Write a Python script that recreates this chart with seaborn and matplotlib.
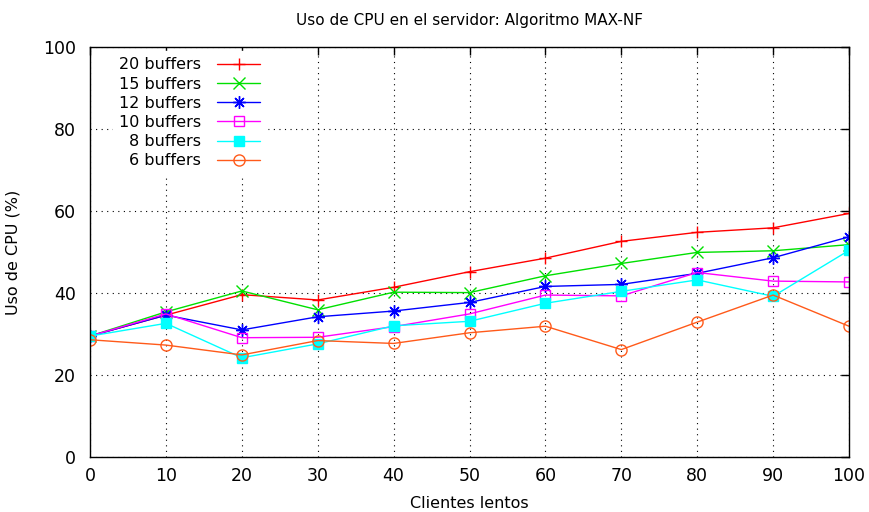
import matplotlib
matplotlib.use('Agg')
import matplotlib.pyplot as plt
import numpy as np
import pandas as pd
import seaborn as sns

# Datos
clientes = [0, 10, 20, 30, 40, 50, 60, 70, 80, 90, 100]
buf20 = [29.5, 34.6, 39.6, 38.3, 41.4, 45.2, 48.5, 52.6, 54.8, 55.9, 59.4]
buf15 = [29.5, 35.4, 40.5, 35.9, 40.2, 40.1, 44.2, 47.2, 49.9, 50.3, 51.8]
buf12 = [29.5, 34.6, 31.0, 34.2, 35.6, 37.7, 41.6, 42.1, 44.8, 48.6, 53.7]
buf10 = [29.5, 34.9, 29.1, 29.2, 31.8, 34.9, 39.5, 39.3, 45.0, 42.9, 42.7]
buf8 = [29.5, 32.6, 24.2, 27.6, 32.0, 33.1, 37.5, 40.4, 43.2, 39.2, 50.4]
buf6 = [28.6, 27.3, 24.9, 28.4, 27.7, 30.3, 31.9, 26.2, 32.9, 39.5, 31.9]

etiquetas = ['20 buffers', '15 buffers', '12 buffers', '10 buffers', '8 buffers', '6 buffers']
series = [buf20, buf15, buf12, buf10, buf8, buf6]
colores = ['#ff0000', '#00e000', '#0000ff', '#ff00ff', '#00ffff', '#ff5a1a']
marcadores = ['+', 'x', (8, 2, 0), 's', 's', 'o']
rellenos = [None, None, None, 'none', '#00ffff', 'none']
tamanos = [9, 8, 9, 7.5, 7.5, 8]

sns.set_style('white')
plt.rcParams['font.family'] = ['DejaVu Sans']
plt.rcParams['text.color'] = 'black'
plt.rcParams['axes.labelcolor'] = 'black'
plt.rcParams['xtick.color'] = 'black'
plt.rcParams['ytick.color'] = 'black'

fig = plt.figure(figsize=(8.69, 5.12), dpi=100)
ax = fig.add_axes([0.1036, 0.1074, 0.8734, 0.8008])

for etq, ys, col, mk, fc, ms in zip(etiquetas, series, colores, marcadores, rellenos, tamanos):
    df = pd.DataFrame({'x': clientes, 'y': ys})
    kw = dict(marker=mk, markersize=ms, markeredgewidth=1.0, markeredgecolor=col)
    if fc is not None:
        kw['markerfacecolor'] = fc
    sns.lineplot(data=df, x='x', y='y', ax=ax, color=col, linewidth=1.0,
                 label=etq, **kw)

ax.set_xlim(0, 100)
ax.set_ylim(0, 100)
ax.set_xticks(np.arange(0, 101, 10))
ax.set_yticks(np.arange(0, 101, 20))
ax.grid(True, color='black', linestyle=(0, (1, 4)), linewidth=0.8)
ax.tick_params(direction='in', top=True, right=True, length=6, width=1,
               labelsize=12.5, color='black')
ax.tick_params(axis='y', pad=10)
ax.tick_params(axis='x', pad=7)
for s in ax.spines.values():
    s.set_color('black')
    s.set_linewidth(1.0)

ax.set_xlabel('Clientes lentos', fontsize=11.5, labelpad=8)
ax.set_ylabel('Uso de CPU (%)', fontsize=11.5, labelpad=16)
ax.set_title('Uso de CPU en el servidor: Algoritmo MAX-NF', fontsize=11, pad=16)

leg = ax.legend(loc='upper left', markerfirst=False, frameon=True, fontsize=11.5,
                handlelength=2.7, handletextpad=1.0, labelspacing=0.26,
                borderpad=0.4, borderaxespad=0.0, bbox_to_anchor=(0.030, 0.990))
leg.get_frame().set_edgecolor('white')
leg.get_frame().set_facecolor('white')
leg.get_frame().set_alpha(1.0)
for t in leg.get_texts():
    t.set_ha('right')

fig.savefig('out.png', dpi=100)
